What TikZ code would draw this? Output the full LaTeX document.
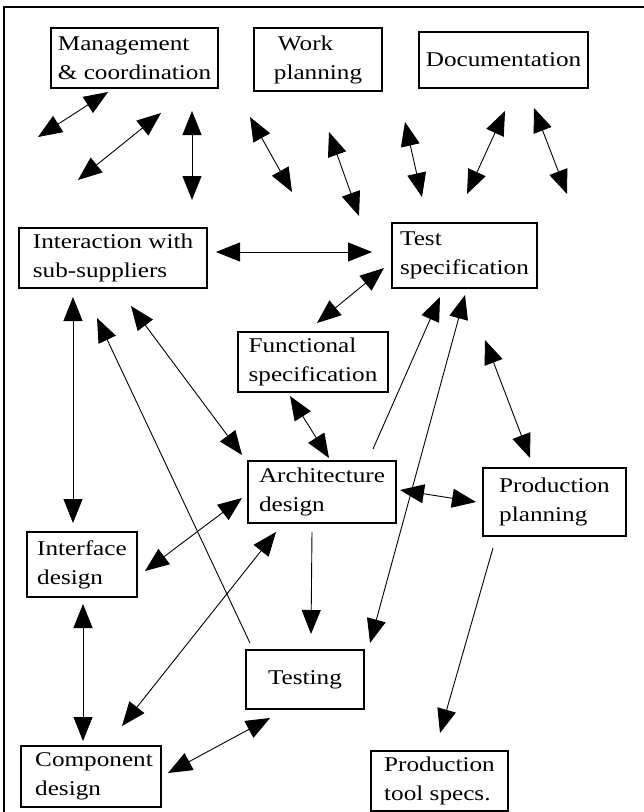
\documentclass[tikz,border=0pt]{standalone}
\usepackage{fontspec}
\setmainfont{Liberation Serif}[FakeStretch=1.2]
\usetikzlibrary{arrows.meta}
\begin{document}
\begin{tikzpicture}[x=1pt,y=-1pt,
  box/.style={draw, line width=2pt, align=left, inner sep=0pt,
    font=\fontsize{21pt}{29pt}\selectfont},
  conn/.style={line width=0.9pt, -{Triangle[length=24pt,width=19pt]}},
  dconn/.style={line width=0.9pt, {Triangle[length=24pt,width=19pt]}-{Triangle[length=24pt,width=19pt]}}]
\useasboundingbox (0,0) rectangle (644,812);
% frame
\draw[line width=2pt] (4,812) -- (4,7) -- (644,7);
% boxes
\node[box, minimum width=167pt, minimum height=60pt] (mgmt) at (134.5,58) {Management\\\& coordination};
\node[box, minimum width=128pt, minimum height=63pt] (work) at (318,59.5) {\hspace*{4pt}Work\\planning};
\node[box, minimum width=169pt, minimum height=56pt] (doc) at (503.5,60) {Documentation};
\node[box, minimum width=188pt, minimum height=60pt] (inter) at (113,258) {Interaction with\\sub-suppliers};
\node[box, minimum width=145pt, minimum height=65pt] (tspec) at (464.5,255.5) {Test\\specification};
\node[box, minimum width=150pt, minimum height=60pt] (func) at (313,362) {Functional\\specification};
\node[box, minimum width=148pt, minimum height=62pt] (arch) at (322,492) {Architecture\\design};
\node[box, minimum width=143pt, minimum height=68pt] (pplan) at (554.5,502) {Production\\planning};
\node[box, minimum width=110pt, minimum height=65pt] (iface) at (82,564.5) {Interface\\design};
\node[box, minimum width=118pt, minimum height=59pt] (test) at (305,679.5) {Testing};
\node[box, minimum width=140pt, minimum height=61pt] (comp) at (91,776.5) {\hspace*{6pt}Component\\\hspace*{6pt}design};
\node[box, minimum width=137pt, minimum height=60pt] (ptool) at (439.5,781) {Production\\tool specs.};
% free connector ends
\coordinate (m1a) at (38,137);  \coordinate (m1b) at (108,92);
\coordinate (m2a) at (78,180);  \coordinate (m2b) at (161,113);
\coordinate (m3a) at (192,111); \coordinate (m3b) at (192,200);
\coordinate (w1a) at (250,117); \coordinate (w1b) at (292,192);
\coordinate (w2a) at (329,132); \coordinate (w2b) at (359,216);
\coordinate (w3a) at (405,122); \coordinate (w3b) at (422,197);
\coordinate (d1a) at (505,111); \coordinate (d1b) at (467,194);
\coordinate (d2a) at (534,108); \coordinate (d2b) at (567,194);
\coordinate (it1) at (216,252); \coordinate (it2) at (372,252);
\coordinate (ft1) at (384,268); \coordinate (ft2) at (317,323);
\coordinate (ii1) at (73,297);  \coordinate (ii2) at (73,523);
\coordinate (ti1) at (250,643); \coordinate (ti2) at (97,318);
\coordinate (ia1) at (131,306); \coordinate (ia2) at (242,455);
\coordinate (at1) at (373,449); \coordinate (at2) at (440,297);
\coordinate (tt1) at (465,295); \coordinate (tt2) at (370,643);
\coordinate (tp1) at (485,340); \coordinate (tp2) at (530,458);
\coordinate (fa1) at (290,396); \coordinate (fa2) at (329,458);
\coordinate (ap1) at (400,490); \coordinate (ap2) at (476,502);
\coordinate (ai1) at (242,498); \coordinate (ai2) at (145,571);
\coordinate (ac1) at (276,532); \coordinate (ac2) at (122,726);
\coordinate (ae1) at (312,532); \coordinate (ae2) at (311,634);
\coordinate (pp1) at (493,548); \coordinate (pp2) at (440,733);
\coordinate (ic1) at (83,604);  \coordinate (ic2) at (83,741);
\coordinate (ct1) at (168,773); \coordinate (ct2) at (270,718);
% connectors
\draw[dconn] (m1a) -- (m1b);
\draw[dconn] (m2a) -- (m2b);
\draw[dconn] (m3a) -- (m3b);
\draw[dconn] (w1a) -- (w1b);
\draw[dconn] (w2a) -- (w2b);
\draw[dconn] (w3a) -- (w3b);
\draw[dconn] (d1a) -- (d1b);
\draw[dconn] (d2a) -- (d2b);
\draw[dconn] (it1) -- (it2);
\draw[dconn] (ft1) -- (ft2);
\draw[dconn] (ii1) -- (ii2);
\draw[conn] (ti1) -- (ti2);
\draw[dconn] (ia1) -- (ia2);
\draw[conn] (at1) -- (at2);
\draw[dconn] (tt1) -- (tt2);
\draw[dconn] (tp1) -- (tp2);
\draw[dconn] (fa1) -- (fa2);
\draw[dconn] (ap1) -- (ap2);
\draw[dconn] (ai1) -- (ai2);
\draw[dconn] (ac1) -- (ac2);
\draw[conn] (ae1) -- (ae2);
\draw[conn] (pp1) -- (pp2);
\draw[dconn] (ic1) -- (ic2);
\draw[dconn] (ct1) -- (ct2);
\end{tikzpicture}
\end{document}
